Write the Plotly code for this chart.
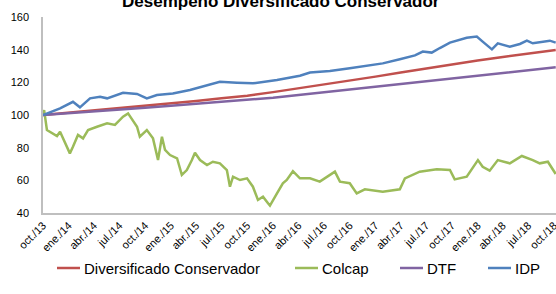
import plotly.graph_objects as go

# ---------------- data ----------------
tick_dates = ["2013-10-01","2014-01-01","2014-04-01","2014-07-01","2014-10-01",
              "2015-01-01","2015-04-01","2015-07-01","2015-10-01",
              "2016-01-01","2016-04-01","2016-07-01","2016-10-01",
              "2017-01-01","2017-04-01","2017-07-01","2017-10-01",
              "2018-01-01","2018-04-01","2018-07-01","2018-10-01"]
tick_labels = ["oct./13","ene./14","abr./14","jul./14","oct./14",
               "ene./15","abr./15","jul./15","oct./15",
               "ene./16","abr./16","jul./16","oct./16",
               "ene./17","abr./17","jul./17","oct./17",
               "ene./18","abr./18","jul./18","oct./18"]

q_dates = tick_dates[:-1] + ["2018-10-07"]
div_conservador = [100, 101.4, 102.8, 104.2, 105.6, 107.1, 108.6, 110.2, 111.8,
                   114.0, 116.3, 118.6, 121.0, 123.5, 126.0, 128.5, 131.0,
                   133.3, 135.5, 137.7, 139.8]
dtf = [100, 101.0, 102.1, 103.2, 104.4, 105.6, 106.8, 108.0, 109.2,
       110.6, 112.2, 113.9, 115.6, 117.2, 118.9, 120.6, 122.5,
       124.3, 126.0, 127.6, 129.2]

colcap_dates = ["2013-10-01","2013-10-05","2013-10-15","2013-10-26","2013-11-20","2013-12-01",
                "2013-12-19","2014-01-05","2014-01-16","2014-02-03","2014-02-21","2014-03-11",
                "2014-04-12","2014-05-18","2014-06-15","2014-07-14","2014-08-01","2014-08-18",
                "2014-09-02","2014-09-12","2014-10-07","2014-10-29","2014-11-16","2014-11-30",
                "2014-12-11","2014-12-29","2015-01-23","2015-02-09","2015-02-27","2015-03-17",
                "2015-03-28","2015-04-15","2015-05-10","2015-05-31","2015-06-25","2015-07-20",
                "2015-07-31","2015-08-11","2015-09-05","2015-09-30","2015-10-21","2015-11-08",
                "2015-11-26","2015-12-14","2015-12-21","2016-01-15","2016-02-05","2016-02-19",
                "2016-03-12","2016-04-06","2016-05-12","2016-06-16","2016-08-09","2016-08-27",
                "2016-10-01","2016-10-26","2016-11-24","2017-01-27","2017-03-29","2017-04-16",
                "2017-06-08","2017-08-08","2017-09-24","2017-10-11","2017-11-23","2018-01-02",
                "2018-01-19","2018-02-13","2018-03-14","2018-04-26","2018-06-08","2018-07-17",
                "2018-08-11","2018-09-09","2018-10-07"]
colcap = [100, 103.0, 90.8, 89.8, 87.1, 89.8,
          82.8, 76.5, 80.6, 87.8, 85.7, 90.8,
          92.8, 94.9, 93.9, 99.0, 101.0, 96.9,
          92.8, 86.7, 90.8, 85.7, 72.4, 86.7,
          78.6, 75.5, 73.5, 63.3, 66.3, 72.4,
          76.9, 72.4, 69.4, 71.4, 70.4, 66.3,
          56.1, 62.2, 60.2, 61.2, 56.1, 48.0,
          50.0, 46.0, 44.5, 52.0, 58.2, 60.2,
          65.6, 61.2, 61.2, 59.2, 65.3, 59.2,
          58.2, 52.0, 54.5, 53.0, 54.5, 61.2,
          65.3, 66.8, 66.3, 60.6, 62.2, 72.4,
          68.3, 65.9, 72.4, 70.4, 74.9, 72.4,
          70.4, 71.4, 63.9]

idp_dates = ["2013-10-01","2013-12-01","2014-01-16","2014-02-10","2014-03-18","2014-04-23",
             "2014-05-18","2014-07-14","2014-09-02","2014-10-07","2014-11-12","2015-01-08",
             "2015-03-10","2015-05-20","2015-06-25","2015-08-25","2015-10-21","2016-01-15",
             "2016-04-06","2016-05-12","2016-07-22","2016-10-01","2016-11-24","2017-01-27",
             "2017-03-29","2017-05-22","2017-06-19","2017-07-21","2017-08-19","2017-09-24",
             "2017-11-23","2017-12-29","2018-01-19","2018-02-03","2018-02-21","2018-03-14",
             "2018-04-26","2018-06-01","2018-06-26","2018-07-17","2018-08-11","2018-09-16",
             "2018-10-07"]
idp = [100, 104.0, 108.1, 104.7, 110.2, 111.2,
       110.2, 113.6, 112.9, 110.2, 112.2, 113.2,
       115.3, 118.4, 120.4, 119.8, 119.4, 121.4,
       124.0, 126.0, 127.0, 128.6, 130.0, 131.6,
       134.1, 136.5, 138.8, 138.2, 141.0, 144.3,
       147.3, 148.0, 144.9, 143.0, 140.2, 143.9,
       141.8, 143.5, 145.5, 143.9, 144.5, 145.5,
       144.3]

series_names = ["Diversificado Conservador", "Colcap", "DTF", "IDP"]
series_colors = ["#C0504D", "#9BBB59", "#8064A2", "#4F81BD"]
series_x = [q_dates, colcap_dates, q_dates, idp_dates]
series_y = [div_conservador, colcap, dtf, idp]

# ---------------- figure ----------------
W, H = 556, 294
ML, MR, MT, MB = 43, 0, 17, 81
PW, PH = W - ML - MR, H - MT - MB

fig = go.Figure()
for name, xs, ys, col in zip(series_names, series_x, series_y, series_colors):
    fig.add_trace(go.Scatter(x=xs, y=ys, name=name, mode="lines",
                             line=dict(color=col, width=2.5), showlegend=False))

# manual legend (key line + label), positioned in paper coordinates
leg_px = [57, 295, 400, 488]
leg_y = (MT + PH - 268) / PH
shapes, annots = [], []
for name, col, px in zip(series_names, series_colors, leg_px):
    x0 = (px - ML) / PW
    x1 = (px + 23 - ML) / PW
    shapes.append(dict(type="line", xref="paper", yref="paper", x0=x0, x1=x1,
                       y0=leg_y, y1=leg_y, line=dict(color=col, width=2.5)))
    annots.append(dict(text=name, xref="paper", yref="paper",
                       x=(px + 25 - ML) / PW, xanchor="left", y=leg_y, yanchor="middle",
                       showarrow=False, font=dict(size=15, color="#000000")))
annots.append(dict(text="<b>Desempeño Diversificado Conservador</b>",
                   xref="paper", yref="paper", x=(281 - ML) / PW, xanchor="center",
                   y=1.018, yanchor="bottom", showarrow=False,
                   font=dict(size=17, color="#000000")))

fig.update_layout(
    width=W, height=H,
    margin=dict(l=ML, r=MR, t=MT, b=MB, autoexpand=False),
    paper_bgcolor="white", plot_bgcolor="white",
    font=dict(family="Liberation Sans, Arial", color="#000000", size=11),
    showlegend=False,
    shapes=shapes, annotations=annots,
)
fig.update_xaxes(type="date", range=["2013-10-01", "2018-10-08"],
                 tickvals=tick_dates, ticktext=tick_labels, tickangle=-45,
                 ticklabeloverflow="allow",
                 showgrid=False, zeroline=False, showline=True, automargin=False,
                 linecolor="#BFBFBF", linewidth=1.5, ticks="",
                 tickfont=dict(size=11))
fig.update_yaxes(range=[40, 160], dtick=20, showgrid=False, zeroline=False,
                 showline=True, linecolor="#BFBFBF", linewidth=1.5, ticks="",
                 automargin=False, ticklabelstandoff=10, tickfont=dict(size=11))

fig.write_html("out.html", config={"displayModeBar": False},
               post_script="document.body.style.margin='0';document.body.style.overflow='hidden';")
